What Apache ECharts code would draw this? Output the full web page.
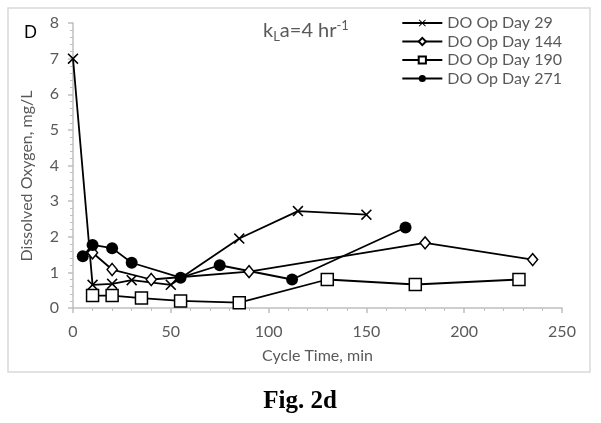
<!DOCTYPE html>
<html>
<head>
<meta charset="utf-8">
<script src="https://cdn.jsdelivr.net/npm/echarts@6/dist/echarts.min.js"></script>
<style>
  html, body { margin: 0; padding: 0; background: #fff; }
  #chart { width: 601px; height: 423px; }
</style>
</head>
<body>
<div id="chart"></div>
<script>
// cycle time (min) and dissolved oxygen (mg/L)
const day29Time = [0, 10, 20, 30, 50, 85, 115, 150];
const day29DO = [7.0, 0.65, 0.68, 0.78, 0.65, 1.95, 2.72, 2.62];
const day144Time = [10, 20, 40, 90, 180, 235];
const day144DO = [1.55, 1.08, 0.8, 1.02, 1.83, 1.36];
const day190Time = [10, 20, 35, 55, 85, 130, 175, 228];
const day190DO = [0.35, 0.35, 0.28, 0.2, 0.15, 0.8, 0.66, 0.8];
const day271Time = [5, 10, 20, 30, 55, 75, 112, 170];
const day271DO = [1.45, 1.77, 1.68, 1.27, 0.85, 1.2, 0.8, 2.26];

const seriesNames = ['DO Op Day 29', 'DO Op Day 144', 'DO Op Day 190', 'DO Op Day 271'];

const gray = '#595959';
const axisGray = '#bfbfbf';
const font = 'Lato, "Open Sans", sans-serif';

const crossPath = 'path://M0,1L1,0L5,4L9,0L10,1L6,5L10,9L9,10L5,6L1,10L0,9L4,5Z';

const pairs = (xs, ys) => xs.map((x, i) => [x, ys[i]]);

const chart = echarts.init(document.getElementById('chart'));

const lineSeries = (name, data, symbol, size, fill) => ({
  name: name,
  type: 'line',
  data: data,
  symbol: symbol,
  symbolSize: size,
  showAllSymbol: true,
  lineStyle: { color: '#000', width: 1.8 },
  itemStyle: { color: fill, borderColor: '#000', borderWidth: fill === '#fff' ? 1.5 : 0 },
  emphasis: { disabled: true },
});

chart.setOption({
  animation: false,
  textStyle: { fontFamily: font },
  grid: { left: 73, right: 39, top: 23, bottom: 115 },
  legend: {
    right: 34,
    top: 10,
    orient: 'vertical',
    itemWidth: 40,
    itemHeight: 9,
    itemGap: 2.5,
    textStyle: { color: gray, fontSize: 16, fontFamily: font, lineHeight: 16 },
    data: seriesNames,
  },
  xAxis: {
    type: 'value',
    min: 0,
    max: 250,
    interval: 50,
    name: 'Cycle Time, min',
    nameLocation: 'middle',
    nameGap: 40,
    nameTextStyle: { color: gray, fontSize: 16 },
    axisLine: { lineStyle: { color: axisGray, width: 1.5 } },
    axisTick: { show: true, length: 5, lineStyle: { color: axisGray, width: 1.5 } },
    minorTick: { show: true, splitNumber: 5, length: 3, lineStyle: { color: axisGray } },
    axisLabel: { color: gray, fontSize: 16, margin: 16 },
    splitLine: { show: false },
  },
  yAxis: {
    type: 'value',
    min: 0,
    max: 8,
    interval: 1,
    axisLine: { show: true, lineStyle: { color: axisGray, width: 1.5 } },
    axisTick: { show: true, length: 5, lineStyle: { color: axisGray, width: 1.5 } },
    minorTick: { show: true, splitNumber: 5, length: 3, lineStyle: { color: axisGray } },
    axisLabel: { color: gray, fontSize: 16, margin: 14 },
    splitLine: { show: false },
  },
  graphic: [
    {
      type: 'rect',
      shape: { x: 8, y: 8, width: 582, height: 364 },
      style: { fill: 'none', stroke: '#d9d9d9', lineWidth: 1.5 },
      silent: true,
    },
    {
      type: 'text',
      x: 27,
      y: 176,
      rotation: Math.PI / 2,
      style: {
        text: 'Dissolved Oxygen, mg/L',
        fill: gray,
        fontSize: 16,
        fontFamily: font,
        align: 'center',
        verticalAlign: 'middle',
      },
    },
    {
      type: 'text',
      x: 24,
      y: 24,
      style: { text: 'D', fill: '#000', fontSize: 17, fontFamily: font },
    },
    {
      type: 'text',
      x: 263,
      y: 19,
      style: {
        text: '{m|k}{sub|L}{m|a=4 hr}{sup|-1}',
        fill: gray,
        fontFamily: font,
        rich: {
          m: { fontSize: 20, lineHeight: 24, fill: gray, fontFamily: font },
          sub: { fontSize: 13, lineHeight: 13, verticalAlign: 'bottom', padding: [7, 0, 0, 0], fill: gray, fontFamily: font },
          sup: { fontSize: 13, lineHeight: 13, verticalAlign: 'top', fill: gray, fontFamily: font },
        },
      },
    },
    {
      type: 'text',
      x: 300,
      y: 402,
      style: {
        text: 'Fig. 2d',
        fill: '#000',
        fontSize: 25,
        fontWeight: 'bold',
        fontFamily: '"Liberation Serif", "DejaVu Serif", serif',
        align: 'center',
        verticalAlign: 'middle',
      },
    },
  ],
  series: [
    lineSeries(seriesNames[0], pairs(day29Time, day29DO), crossPath, 11, '#000'),
    lineSeries(seriesNames[1], pairs(day144Time, day144DO), 'diamond', [10, 12], '#fff'),
    lineSeries(seriesNames[2], pairs(day190Time, day190DO), 'rect', 12, '#fff'),
    lineSeries(seriesNames[3], pairs(day271Time, day271DO), 'circle', 12, '#000'),
  ],
});
</script>
</body>
</html>
